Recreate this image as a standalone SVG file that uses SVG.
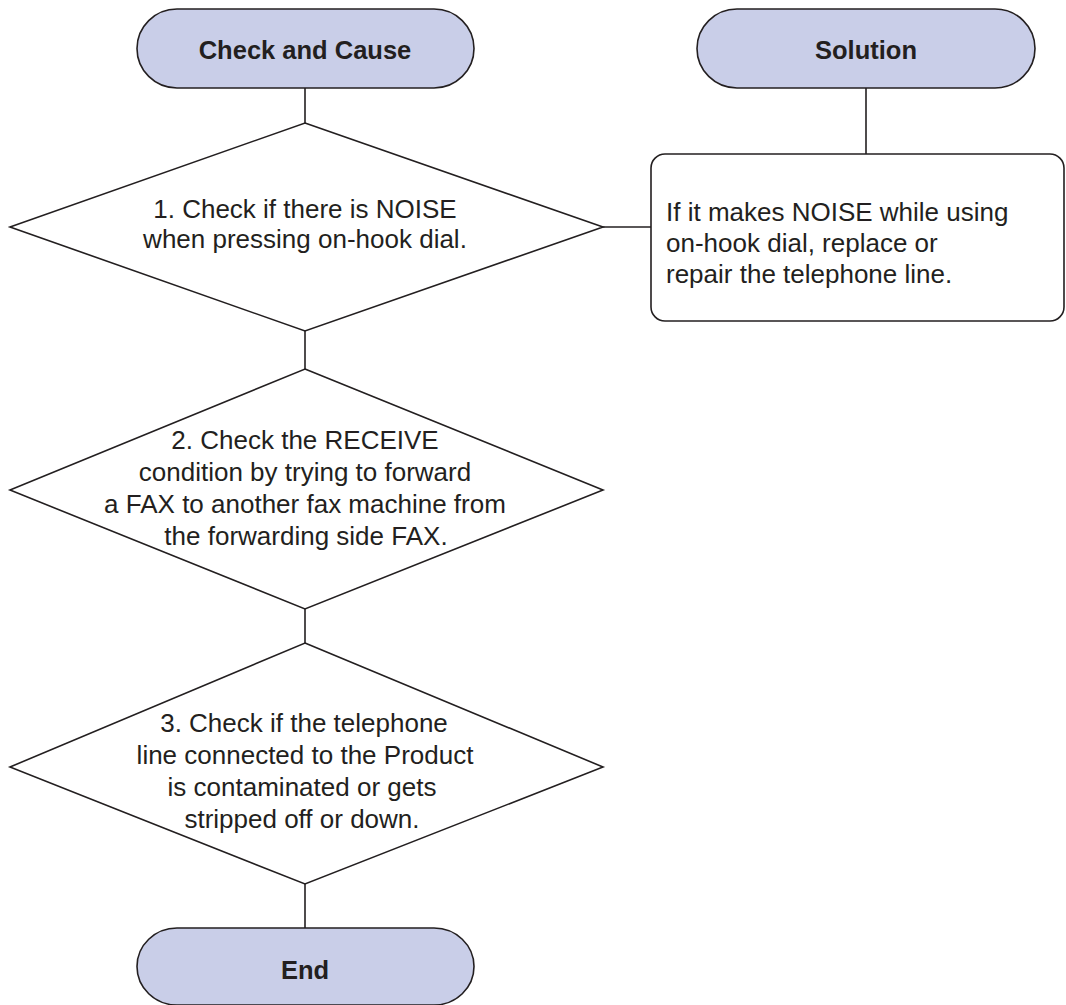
<svg xmlns="http://www.w3.org/2000/svg" width="1066" height="1005" viewBox="0 0 1066 1005">
<style>
.term{fill:#c9cee8;stroke:#231f20;stroke-width:1.6}
.shape{fill:#ffffff;stroke:#231f20;stroke-width:1.6}
.conn{stroke:#231f20;stroke-width:1.6;fill:none}
.tb{font-family:"Liberation Sans",Arial,sans-serif;font-weight:bold;font-size:25.5px;fill:#231f20;text-anchor:middle}
.t{font-family:"Liberation Sans",Arial,sans-serif;font-size:26px;fill:#231f20;text-anchor:middle}
.tl{font-family:"Liberation Sans",Arial,sans-serif;font-size:26px;fill:#231f20}
</style>
<rect width="1066" height="1005" fill="#ffffff"/>
<g id="connectors">
<line class="conn" x1="305" y1="88" x2="305" y2="123"/>
<line class="conn" x1="866" y1="88" x2="866" y2="154"/>
<line class="conn" x1="603" y1="227" x2="651" y2="227"/>
<line class="conn" x1="305" y1="331" x2="305" y2="369"/>
<line class="conn" x1="305" y1="609" x2="305" y2="643"/>
<line class="conn" x1="305" y1="884" x2="305" y2="928"/>
</g>
<g id="start">
<rect class="term" x="137" y="9" width="337" height="79" rx="40" ry="39.5"/>
<text class="tb" x="305" y="59">Check and Cause</text>
</g>
<g id="solution-header">
<rect class="term" x="697" y="9" width="338" height="79" rx="40" ry="39.5"/>
<text class="tb" x="866" y="59">Solution</text>
</g>
<g id="check1">
<polygon class="shape" points="305,123 603,227 305,331 10,227"/>
<text class="t" x="305" y="218">1. Check if there is NOISE</text>
<text class="t" x="305" y="248">when pressing on-hook dial.</text>
</g>
<g id="solution1">
<rect class="shape" x="651" y="154" width="413" height="167" rx="14"/>
<text class="tl" x="666" y="221">If it makes NOISE while using</text>
<text class="tl" x="666" y="252">on-hook dial, replace or</text>
<text class="tl" x="666" y="283">repair the telephone line.</text>
</g>
<g id="check2">
<polygon class="shape" points="305,369 603,490 305,609 10,490"/>
<text class="t" x="305" y="449">2. Check the RECEIVE</text>
<text class="t" x="305" y="481">condition by trying to forward</text>
<text class="t" x="305" y="513">a FAX to another fax machine from</text>
<text class="t" x="306" y="545">the forwarding side FAX.</text>
</g>
<g id="check3">
<polygon class="shape" points="305,643 603,767 305,884 10,767"/>
<text class="t" x="304" y="732">3. Check if the telephone</text>
<text class="t" x="305" y="764">line connected to the Product</text>
<text class="t" x="302" y="796">is contaminated or gets</text>
<text class="t" x="302" y="828">stripped off or down.</text>
</g>
<g id="end">
<rect class="term" x="137" y="928" width="337" height="77" rx="40" ry="38.5"/>
<text class="tb" x="305" y="979">End</text>
</g>
</svg>
